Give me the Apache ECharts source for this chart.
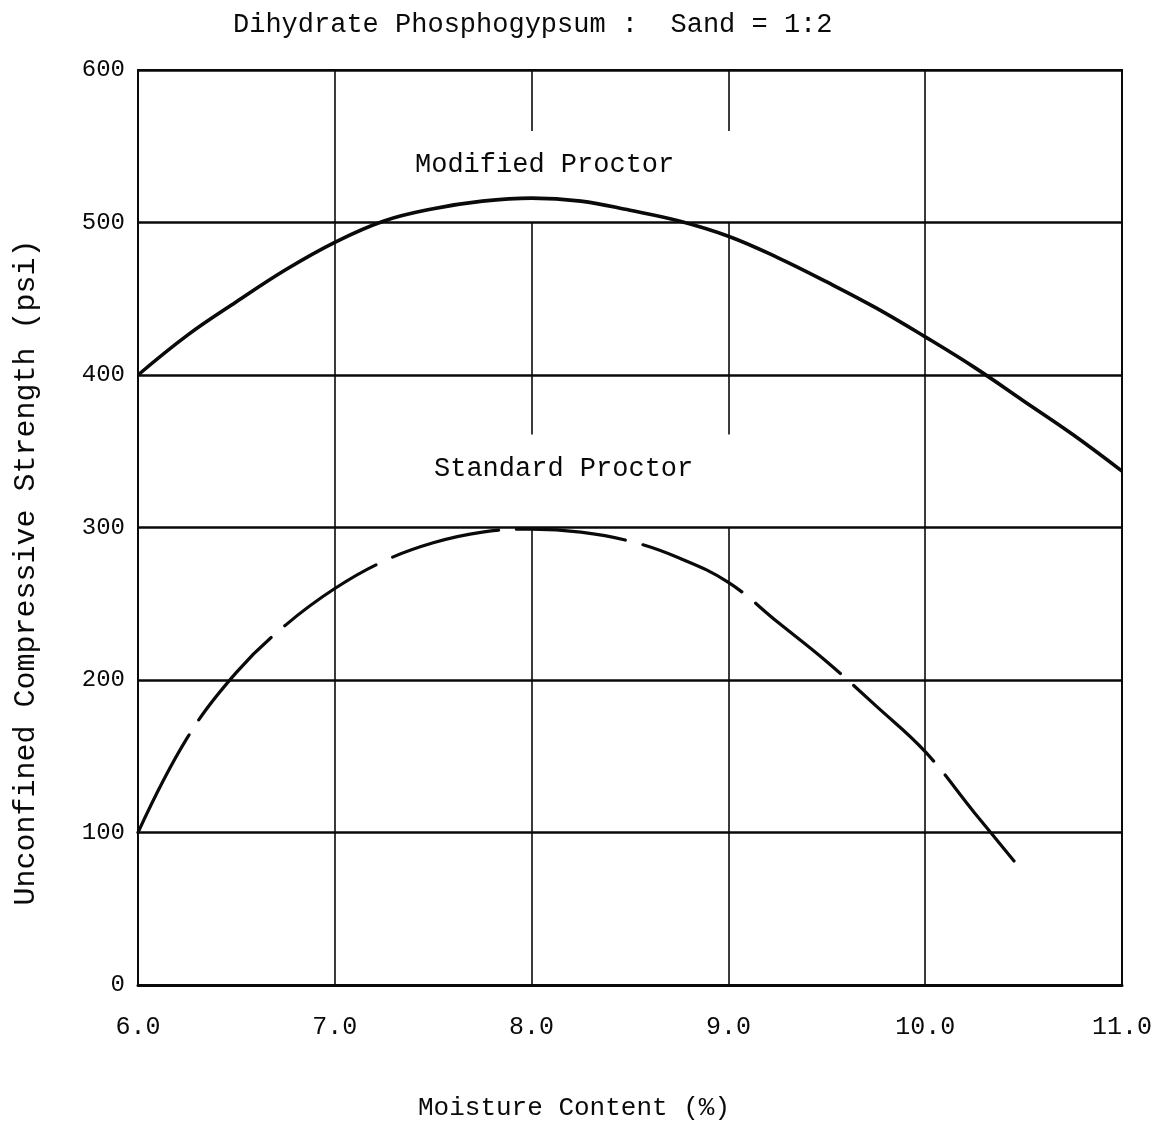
<!DOCTYPE html>
<html>
<head>
<meta charset="utf-8">
<script src="https://cdn.jsdelivr.net/npm/echarts@6/dist/echarts.min.js"></script>
<style>
html,body{margin:0;padding:0;background:#fff;}
#chart{width:1174px;height:1126px;}
</style>
</head>
<body>
<div id="chart"></div>
<script>
// ---- Data ----
const titleText = 'Dihydrate Phosphogypsum :  Sand = 1:2';
const xAxisName = 'Moisture Content (%)';
const yAxisName = 'Unconfined Compressive Strength (psi)';
const curveNames = ['Modified Proctor', 'Standard Proctor'];

const xTicks = [6.0, 7.0, 8.0, 9.0, 10.0, 11.0];
const yTicks = [0, 100, 200, 300, 400, 500, 600];

const modifiedMoisture = [6.0, 6.25, 6.5, 6.75, 7.0, 7.25, 7.5, 7.75, 8.0, 8.25, 8.5, 8.75, 9.0, 9.25, 9.5, 9.75, 10.0, 10.25, 10.5, 10.75, 11.0];
const modifiedStrength = [400, 426, 448, 469, 487, 501, 509, 514, 516, 514, 508, 501, 491, 477, 461, 444, 425, 405, 383, 361, 337];

const standardMoisture = [6.0, 6.25, 6.5, 6.75, 7.0, 7.25, 7.5, 7.75, 8.0, 8.25, 8.5, 8.75, 9.0, 9.25, 9.5, 9.75, 10.0, 10.25, 10.46];
const standardStrength = [100, 162, 205, 236, 260, 278, 290, 297, 299, 297, 291, 280, 264, 238, 212, 183, 153, 113, 80];

// vertical grid lines; those at 8.0 and 9.0 are broken where the curve labels sit
const fullGridX = [7.0, 10.0];
const brokenGridX = [8.0, 9.0];
const gridGapRanges = [[560, 500], [361, 300]];

// ---- Build chart ----
const font = 'Liberation Mono, Courier New, DejaVu Sans Mono, monospace';
const ink = '#0a0a0a';

function pairs(xs, ys) { return xs.map((x, i) => [x, ys[i]]); }

const yMin = yTicks[0], yMax = yTicks[yTicks.length - 1];
const gridLines = [];
fullGridX.forEach(x => gridLines.push([{coord: [x, yMin]}, {coord: [x, yMax]}]));
brokenGridX.forEach(x => {
  let top = yMax;
  gridGapRanges.forEach(([g1, g2]) => {
    gridLines.push([{coord: [x, top]}, {coord: [x, g1]}]);
    top = g2;
  });
  gridLines.push([{coord: [x, top]}, {coord: [x, yMin]}]);
});

const chart = echarts.init(document.getElementById('chart'), null, {renderer: 'canvas'});
chart.setOption({
  animation: false,
  backgroundColor: '#ffffff',
  title: {
    text: titleText,
    left: 228, top: 6,
    textStyle: {fontFamily: font, fontSize: 27, fontWeight: 'normal', color: ink}
  },
  grid: {
    left: 138, right: 52, top: 70, bottom: 141,
    show: true, borderColor: ink, borderWidth: 2, backgroundColor: 'transparent'
  },
  xAxis: {
    type: 'value',
    min: xTicks[0], max: xTicks[xTicks.length - 1], interval: 1,
    name: xAxisName, nameLocation: 'middle', nameGap: 110,
    nameTextStyle: {fontFamily: font, fontSize: 26, color: ink, padding: [0, 112, 0, 0]},
    axisLine: {show: true, onZero: false, lineStyle: {color: ink, width: 3}},
    axisTick: {show: false},
    splitLine: {show: false},
    axisLabel: {
      margin: 30, fontFamily: font, fontSize: 25, color: ink,
      formatter: v => v.toFixed(1)
    }
  },
  yAxis: {
    type: 'value',
    min: yMin, max: yMax, interval: 100,
    name: yAxisName, nameLocation: 'middle', nameGap: 97,
    nameTextStyle: {fontFamily: font, fontSize: 30, color: ink, padding: [0, 90, 0, 0]},
    axisLine: {show: true, lineStyle: {color: ink, width: 2}},
    axisTick: {show: false},
    splitLine: {show: true, lineStyle: {color: ink, width: 2.6}},
    axisLabel: {margin: 13, fontFamily: font, fontSize: 24, color: ink}
  },
  graphic: [
    {type: 'text', left: 415, top: 151, style: {text: curveNames[0], font: '27px ' + font, fill: ink}},
    {type: 'text', left: 434, top: 455, style: {text: curveNames[1], font: '27px ' + font, fill: ink}}
  ],
  series: [
    {
      name: curveNames[0],
      type: 'line',
      data: pairs(modifiedMoisture, modifiedStrength),
      smooth: 0.4,
      showSymbol: false,
      lineStyle: {color: ink, width: 3.6},
      z: 5,
      markLine: {
        silent: true, symbol: 'none', animation: false,
        label: {show: false},
        lineStyle: {type: 'solid', color: ink, width: 1.6},
        data: gridLines
      }
    },
    {
      name: curveNames[1],
      type: 'line',
      data: pairs(standardMoisture, standardStrength),
      smooth: 0.4,
      showSymbol: false,
      lineStyle: {color: ink, width: 3.2, type: [110, 18], cap: 'round'},
      z: 5
    }
  ]
});
</script>
</body>
</html>
